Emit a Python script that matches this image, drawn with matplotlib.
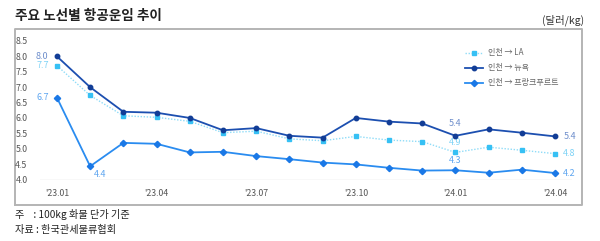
import matplotlib
matplotlib.use("Agg")
import matplotlib.pyplot as plt

plt.rcParams['font.family'] = ['Noto Sans CJK KR', 'DejaVu Sans']

months = ["'23.01", "'23.02", "'23.03", "'23.04", "'23.05", "'23.06", "'23.07", "'23.08",
          "'23.09", "'23.10", "'23.11", "'23.12", "'24.01", "'24.02", "'24.03", "'24.04"]
la = [7.7, 6.73, 6.07, 6.02, 5.89, 5.52, 5.57, 5.32, 5.26, 5.40, 5.28, 5.23, 4.88, 5.05, 4.95, 4.84]
ny = [8.0, 7.0, 6.2, 6.17, 6.0, 5.6, 5.67, 5.42, 5.36, 6.0, 5.88, 5.82, 5.42, 5.63, 5.52, 5.4]
fr = [6.66, 4.43, 5.19, 5.16, 4.88, 4.9, 4.76, 4.66, 4.55, 4.49, 4.38, 4.29, 4.3, 4.22, 4.32, 4.21]
yticks = [4.0, 4.5, 5.0, 5.5, 6.0, 6.5, 7.0, 7.5, 8.0, 8.5]

c_la = '#36c0f4'
c_ny = '#1c4fb0'
c_fr = '#2a8cf0'

fig = plt.figure(figsize=(6, 2.41), dpi=100)
ax = fig.add_axes([40/600, (241-179.5)/241, 532/600, (179.5-41)/241])
x = list(range(len(months)))

# outer frame around the chart area
x0, x1 = 15/600, 582/600
y0, y1 = 1-205/241, 1-29/241
ax.plot([x0, x1, x1, x0, x0], [y0, y0, y1, y1, y0], transform=fig.transFigure,
        color='#b4b4b4', lw=1.4, clip_on=False, zorder=0)

ax.plot(x, la, color='#8fdcf8', lw=1.0, ls=(0, (1, 1.2)), marker='s', ms=3.5,
        mfc=c_la, mec=c_la, label='인천 → LA', clip_on=False, zorder=3)
ax.plot(x, ny, color=c_ny, lw=1.3, marker='o', ms=3.2,
        mfc='#123d96', mec='#123d96', label='인천 → 뉴욕', clip_on=False, zorder=4)
ax.plot(x, fr, color=c_fr, lw=1.3, marker='D', ms=3.2,
        mfc='#1a78e6', mec='#1a78e6', label='인천 → 프랑크푸르트', clip_on=False, zorder=4)

ax.set_xlim(-0.51, 15.51)
ax.set_ylim(4.0, 8.5)
ax.axhline(4.0, color='#dddddd', lw=1.0, zorder=1)
for s in ax.spines.values():
    s.set_visible(False)
ax.set_yticks(yticks)
ax.set_yticklabels([f'{v:.1f}' for v in yticks])
ax.set_xticks(x[::3])
ax.set_xticklabels(months[::3])
ax.tick_params(length=0, labelsize=6.3, colors='#555555')
ax.tick_params(axis='y', pad=9)
ax.tick_params(axis='x', pad=7)

fs = 6.5
ax.text(x[0] - 0.25, ny[0], f'{ny[0]:.1f}', color='#6f8fcc', fontsize=fs, ha='right', va='center')
ax.text(x[0] - 0.25, la[0], f'{la[0]:.1f}', color='#7fd3f6', fontsize=fs, ha='right', va='center')
ax.text(x[0] - 0.25, fr[0], f'{fr[0]:.1f}', color='#5fa6f0', fontsize=fs, ha='right', va='center')
ax.text(x[1] + 0.1, fr[1] - 0.13, f'{fr[1]:.1f}', color='#5fa6f0', fontsize=fs, ha='left', va='top')
ax.text(x[12], ny[12] + 0.25, f'{ny[12]:.1f}', color='#6f8fcc', fontsize=fs, ha='center', va='bottom')
ax.text(x[12], la[12] + 0.17, f'{la[12]:.1f}', color='#7fd3f6', fontsize=fs, ha='center', va='bottom')
ax.text(x[12], fr[12] + 0.17, f'{fr[12]:.1f}', color='#5fa6f0', fontsize=fs, ha='center', va='bottom')
ax.text(x[15] + 0.25, ny[15], f'{ny[15]:.1f}', color='#6f8fcc', fontsize=fs, ha='left', va='center')
ax.text(x[15] + 0.25, la[15], f'{la[15]:.1f}', color='#7fd3f6', fontsize=fs, ha='left', va='center')
ax.text(x[15] + 0.25, fr[15], f'{fr[15]:.1f}', color='#5fa6f0', fontsize=fs, ha='left', va='center')

ax.legend(loc='upper right', bbox_to_anchor=(0.98, 0.97), frameon=False, fontsize=5.8,
          handlelength=2.2, handletextpad=0.6, labelspacing=0.75, labelcolor='#666666',
          borderaxespad=0)

fig.text(15/600, 1-16/241, '주요 노선별 항공운임 추이', fontsize=9.8, fontweight='bold',
         ha='left', va='center', color='#222222')
fig.text(584/600, 1-20/241, '(달러/kg)', fontsize=7.5, ha='right', va='center', color='#333333')
fig.text(15/600, 1-214/241, '주    : 100kg 화물 단가 기준', fontsize=7.3, ha='left', va='center', color='#222222')
fig.text(15/600, 1-230/241, '자료 : 한국관세물류협회', fontsize=7.3, ha='left', va='center', color='#222222')

fig.savefig('out.png', dpi=100)
